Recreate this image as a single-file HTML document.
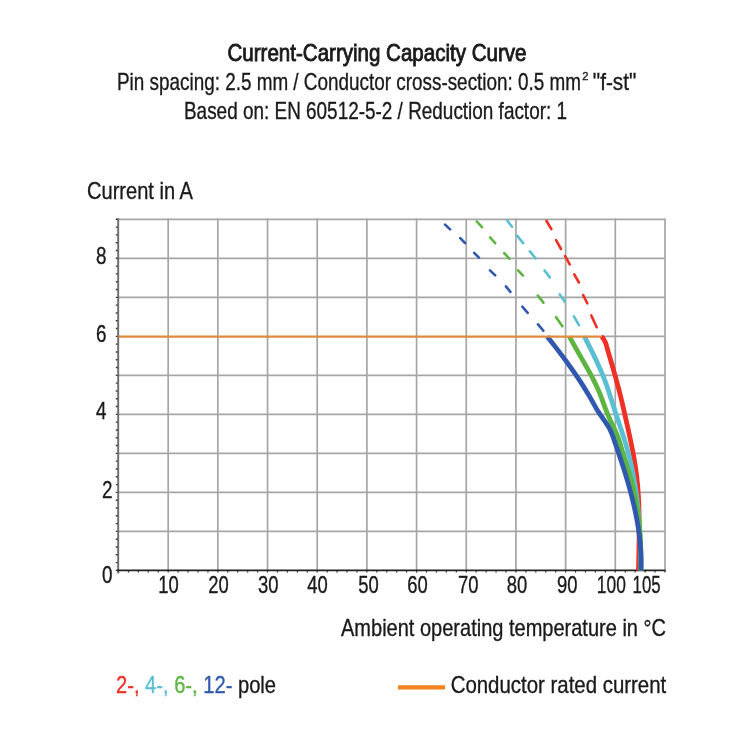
<!DOCTYPE html>
<html><head><meta charset="utf-8"><style>
html,body{margin:0;padding:0;background:#fff;width:750px;height:750px;overflow:hidden}
svg{display:block;will-change:transform;font-family:"Liberation Sans",sans-serif}
</style></head><body>
<svg width="750" height="750" viewBox="0 0 750 750">
<rect width="750" height="750" fill="#fff"/>
<g stroke="#a6a6a6" stroke-width="1.7"><line x1="168.18" y1="218.5" x2="168.18" y2="570.4"/><line x1="217.86" y1="218.5" x2="217.86" y2="570.4"/><line x1="267.54" y1="218.5" x2="267.54" y2="570.4"/><line x1="317.22" y1="218.5" x2="317.22" y2="570.4"/><line x1="366.90" y1="218.5" x2="366.90" y2="570.4"/><line x1="416.58" y1="218.5" x2="416.58" y2="570.4"/><line x1="466.26" y1="218.5" x2="466.26" y2="570.4"/><line x1="515.94" y1="218.5" x2="515.94" y2="570.4"/><line x1="565.62" y1="218.5" x2="565.62" y2="570.4"/><line x1="615.30" y1="218.5" x2="615.30" y2="570.4"/><line x1="665.00" y1="218.5" x2="665.00" y2="570.4"/><line x1="118.5" y1="531.39" x2="665" y2="531.39"/><line x1="118.5" y1="492.38" x2="665" y2="492.38"/><line x1="118.5" y1="453.37" x2="665" y2="453.37"/><line x1="118.5" y1="414.36" x2="665" y2="414.36"/><line x1="118.5" y1="375.35" x2="665" y2="375.35"/><line x1="601" y1="336.34" x2="665" y2="336.34"/><line x1="118.5" y1="297.33" x2="665" y2="297.33"/><line x1="118.5" y1="258.32" x2="665" y2="258.32"/><line x1="118.5" y1="219.31" x2="665" y2="219.31"/></g>
<path d="M115.8 570.40H118.5M115.8 562.60H118.5M115.8 554.80H118.5M115.8 546.99H118.5M115.8 539.19H118.5M115.8 531.39H118.5M115.8 523.59H118.5M115.8 515.79H118.5M115.8 507.98H118.5M115.8 500.18H118.5M115.8 492.38H118.5M115.8 484.58H118.5M115.8 476.78H118.5M115.8 468.97H118.5M115.8 461.17H118.5M115.8 453.37H118.5M115.8 445.57H118.5M115.8 437.77H118.5M115.8 429.96H118.5M115.8 422.16H118.5M115.8 414.36H118.5M115.8 406.56H118.5M115.8 398.76H118.5M115.8 390.95H118.5M115.8 383.15H118.5M115.8 375.35H118.5M115.8 367.55H118.5M115.8 359.75H118.5M115.8 351.94H118.5M115.8 344.14H118.5M115.8 336.34H118.5M115.8 328.54H118.5M115.8 320.74H118.5M115.8 312.93H118.5M115.8 305.13H118.5M115.8 297.33H118.5M115.8 289.53H118.5M115.8 281.73H118.5M115.8 273.92H118.5M115.8 266.12H118.5M115.8 258.32H118.5M115.8 250.52H118.5M115.8 242.72H118.5M115.8 234.91H118.5M115.8 227.11H118.5M115.8 219.31H118.5" stroke="#333" stroke-width="1.4" fill="none"/>
<path d="M118.50 570.4V572.6M128.44 570.4V572.6M138.37 570.4V572.6M148.31 570.4V572.6M158.24 570.4V572.6M168.18 570.4V572.6M178.12 570.4V572.6M188.05 570.4V572.6M197.99 570.4V572.6M207.92 570.4V572.6M217.86 570.4V572.6M227.80 570.4V572.6M237.73 570.4V572.6M247.67 570.4V572.6M257.60 570.4V572.6M267.54 570.4V572.6M277.48 570.4V572.6M287.41 570.4V572.6M297.35 570.4V572.6M307.28 570.4V572.6M317.22 570.4V572.6M327.16 570.4V572.6M337.09 570.4V572.6M347.03 570.4V572.6M356.96 570.4V572.6M366.90 570.4V572.6M376.84 570.4V572.6M386.77 570.4V572.6M396.71 570.4V572.6M406.64 570.4V572.6M416.58 570.4V572.6M426.52 570.4V572.6M436.45 570.4V572.6M446.39 570.4V572.6M456.32 570.4V572.6M466.26 570.4V572.6M476.20 570.4V572.6M486.13 570.4V572.6M496.07 570.4V572.6M506.00 570.4V572.6M515.94 570.4V572.6M525.88 570.4V572.6M535.81 570.4V572.6M545.75 570.4V572.6M555.68 570.4V572.6M565.62 570.4V572.6M575.56 570.4V572.6M585.49 570.4V572.6M595.43 570.4V572.6M605.36 570.4V572.6M615.30 570.4V572.6M625.24 570.4V572.6M635.17 570.4V572.6M645.11 570.4V572.6M655.04 570.4V572.6M664.98 570.4V572.6" stroke="#333" stroke-width="1.2" fill="none"/>
<line x1="118.2" y1="218.6" x2="118.2" y2="573.5" stroke="#6a6a6a" stroke-width="1.9"/>
<line x1="117" y1="570.4" x2="665.5" y2="570.4" stroke="#222" stroke-width="1.6"/>
<path d="M546.51 220.99L551.39 229.21M556.09 240.20L561.01 249.00M565.19 256.20L569.71 264.40M574.30 274.40L578.90 282.50M583.16 295.12L587.24 303.28M591.33 315.43L596.67 327.27" stroke="#ee3124" stroke-width="2.6" stroke-linecap="round" fill="none"/>
<path d="M507.19 220.43L512.01 226.67M517.30 235.92L523.20 243.18M529.90 251.32L535.50 258.28M544.49 270.43L549.91 277.37M559.75 294.36L564.75 301.74M573.90 316.40L578.90 325.20" stroke="#5bbfd3" stroke-width="2.6" stroke-linecap="round" fill="none"/>
<path d="M476.83 221.50L481.97 227.20M490.13 237.50L495.17 243.20M504.24 253.09L509.36 258.71M518.05 270.38L522.95 275.62M537.79 295.53L543.41 302.67M556.06 317.15L562.44 326.25" stroke="#5cb541" stroke-width="2.6" stroke-linecap="round" fill="none"/>
<path d="M445.08 224.65L450.12 229.35M460.26 238.17L465.04 243.03M474.17 252.87L478.93 257.63M489.98 270.35L495.22 275.35M505.91 286.42L510.39 291.88M522.32 306.71L527.68 312.89M538.01 324.32L543.39 330.78" stroke="#3058ae" stroke-width="2.6" stroke-linecap="round" fill="none"/>
<path d="M601.20 336.60L602.60 337.60L603.90 339.50L604.90 341.50L605.81 343.30L606.65 346.30L607.50 349.30L608.36 352.30L609.23 355.30L610.10 358.30L610.98 361.30L611.86 364.30L612.73 367.30L613.60 370.30L614.46 373.30L615.32 376.30L616.16 379.30L616.98 382.30L617.79 385.30L618.58 388.30L619.35 391.30L620.10 394.30L620.83 397.30L621.56 400.30L622.26 403.30L622.96 406.30L623.65 409.30L624.33 412.30L625.01 415.30L625.68 418.30L626.35 421.30L627.02 424.30L627.69 427.30L628.35 430.30L629.01 433.30L629.66 436.30L630.30 439.30L630.93 442.30L631.55 445.30L632.15 448.30L632.74 451.30L633.30 454.30L633.85 457.30L634.37 460.30L634.87 463.30L635.34 466.30L635.78 469.30L636.19 472.30L636.57 475.30L636.92 478.30L637.24 481.30L637.53 484.30L637.79 487.30L638.02 490.30L638.23 493.30L638.42 496.30L638.58 499.30L638.72 502.30L638.84 505.30L638.94 508.30L639.02 511.30L639.09 514.30L639.13 517.30L639.17 520.30L639.19 523.30L639.19 526.30L639.18 529.30L639.17 532.30L639.14 535.30L639.11 538.30L639.07 541.30L639.02 544.30L638.97 547.30L638.91 550.30L638.85 553.30L638.79 556.30L638.73 559.30L638.67 562.30L638.61 565.30L638.56 568.30L638.52 570.40" stroke="#ee3124" stroke-width="4.8" fill="none" stroke-linejoin="round"/>
<path d="M584.30 336.40L585.83 339.40L587.35 342.40L588.87 345.40L590.38 348.40L591.87 351.40L593.35 354.40L594.80 357.40L596.23 360.40L597.63 363.40L598.99 366.40L600.32 369.40L601.60 372.40L602.84 375.40L604.03 378.40L605.17 381.40L606.27 384.40L607.32 387.40L608.35 390.40L609.34 393.40L610.32 396.40L611.28 399.40L612.23 402.40L613.18 405.40L614.13 408.40L615.09 411.40L616.07 414.40L617.07 417.40L618.08 420.40L619.10 423.40L620.12 426.40L621.13 429.40L622.13 432.40L623.11 435.40L624.06 438.40L624.99 441.40L625.88 444.40L626.73 447.40L627.56 450.40L628.35 453.40L629.11 456.40L629.85 459.40L630.55 462.40L631.23 465.40L631.87 468.40L632.49 471.40L633.08 474.40L633.64 477.40L634.18 480.40L634.69 483.40L635.17 486.40L635.63 489.40L636.07 492.40L636.48 495.40L636.87 498.40L637.24 501.40L637.58 504.40L637.90 507.40L638.21 510.40L638.49 513.40L638.75 516.40L638.99 519.40L639.22 522.40L639.42 525.40L639.61 528.40L639.78 531.40L639.93 534.40L640.07 537.40L640.20 540.40L640.30 543.40L640.40 546.40L640.48 549.40L640.55 552.40L640.60 555.40L640.64 558.40L640.68 561.40L640.70 564.40L640.71 567.40L640.71 570.40" stroke="#5bbfd3" stroke-width="4.8" fill="none" stroke-linejoin="round"/>
<path d="M569.41 336.40L570.98 339.40L572.60 342.40L574.25 345.40L575.93 348.40L577.63 351.40L579.34 354.40L581.06 357.40L582.78 360.40L584.50 363.40L586.20 366.40L587.88 369.40L589.54 372.40L591.16 375.40L592.74 378.40L594.26 381.40L595.74 384.40L597.15 387.40L598.49 390.40L599.77 393.40L600.96 396.40L602.08 399.40L603.15 402.40L604.22 405.40L605.34 408.40L606.52 411.40L607.76 414.40L609.05 417.40L610.39 420.40L611.77 423.40L613.18 426.40L614.60 429.40L615.99 432.40L617.29 435.40L618.46 438.40L619.48 441.40L620.38 444.40L621.25 447.40L622.13 450.40L623.04 453.40L623.98 456.40L624.93 459.40L625.89 462.40L626.85 465.40L627.80 468.40L628.74 471.40L629.66 474.40L630.55 477.40L631.39 480.40L632.20 483.40L632.96 486.40L633.68 489.40L634.35 492.40L634.99 495.40L635.59 498.40L636.15 501.40L636.67 504.40L637.15 507.40L637.60 510.40L638.02 513.40L638.41 516.40L638.76 519.40L639.08 522.40L639.37 525.40L639.63 528.40L639.87 531.40L640.08 534.40L640.26 537.40L640.42 540.40L640.55 543.40L640.67 546.40L640.76 549.40L640.83 552.40L640.88 555.40L640.92 558.40L640.94 561.40L640.94 564.40L640.93 567.40L640.90 570.40" stroke="#5cb541" stroke-width="4.8" fill="none" stroke-linejoin="round"/>
<path d="M547.21 336.40L549.56 339.40L551.90 342.40L554.23 345.40L556.53 348.40L558.82 351.40L561.09 354.40L563.34 357.40L565.56 360.40L567.75 363.40L569.91 366.40L572.05 369.40L574.15 372.40L576.21 375.40L578.24 378.40L580.23 381.40L582.17 384.40L584.07 387.40L585.93 390.40L587.74 393.40L589.50 396.40L591.21 399.40L592.87 402.40L594.55 405.40L596.27 408.40L598.09 411.40L600.06 414.40L602.15 417.40L604.27 420.40L606.33 423.40L608.24 426.40L609.91 429.40L611.30 432.40L612.50 435.40L613.57 438.40L614.61 441.40L615.65 444.40L616.68 447.40L617.71 450.40L618.72 453.40L619.73 456.40L620.72 459.40L621.71 462.40L622.68 465.40L623.63 468.40L624.58 471.40L625.50 474.40L626.41 477.40L627.31 480.40L628.18 483.40L629.03 486.40L629.87 489.40L630.68 492.40L631.47 495.40L632.23 498.40L632.97 501.40L633.69 504.40L634.37 507.40L635.03 510.40L635.66 513.40L636.27 516.40L636.84 519.40L637.37 522.40L637.88 525.40L638.35 528.40L638.79 531.40L639.20 534.40L639.56 537.40L639.89 540.40L640.18 543.40L640.44 546.40L640.65 549.40L640.82 552.40L640.95 555.40L641.04 558.40L641.08 561.40L641.08 564.40L641.03 567.40L640.93 570.40" stroke="#3058ae" stroke-width="4.8" fill="none" stroke-linejoin="round"/>
<line x1="118.5" y1="336.7" x2="601.5" y2="336.7" stroke="#e2893d" stroke-width="2.3"/>
<text x="227.5" y="61.4" font-size="24" font-weight="normal" text-anchor="start" fill="#1a1a1a" textLength="299" lengthAdjust="spacingAndGlyphs" stroke="#1a1a1a" stroke-width="0.9">Current-Carrying Capacity Curve</text>
<text x="117" y="89.9" font-size="24" font-weight="normal" text-anchor="start" fill="#1a1a1a" textLength="464" lengthAdjust="spacingAndGlyphs" stroke="#1a1a1a" stroke-width="0.35">Pin spacing: 2.5 mm / Conductor cross-section: 0.5 mm</text>
<text x="582.2" y="79.8" font-size="11" font-weight="normal" text-anchor="start" fill="#1a1a1a" textLength="6.2" lengthAdjust="spacingAndGlyphs" stroke="#1a1a1a" stroke-width="0.35">2</text>
<text x="592.8" y="89.9" font-size="24" font-weight="normal" text-anchor="start" fill="#1a1a1a" textLength="43.5" lengthAdjust="spacingAndGlyphs" stroke="#1a1a1a" stroke-width="0.35">"f-st"</text>
<text x="184" y="119" font-size="24" font-weight="normal" text-anchor="start" fill="#1a1a1a" textLength="383" lengthAdjust="spacingAndGlyphs" stroke="#1a1a1a" stroke-width="0.35">Based on: EN 60512-5-2 / Reduction factor: 1</text>
<text x="87" y="199.1" font-size="24" font-weight="normal" text-anchor="start" fill="#1a1a1a" textLength="106" lengthAdjust="spacingAndGlyphs" stroke="#1a1a1a" stroke-width="0.35">Current in A</text>
<text x="341" y="636.3" font-size="24" font-weight="normal" text-anchor="start" fill="#1a1a1a" textLength="325" lengthAdjust="spacingAndGlyphs" stroke="#1a1a1a" stroke-width="0.35">Ambient operating temperature in °C</text>
<text x="96" y="263.8" font-size="24" font-weight="normal" text-anchor="start" fill="#1a1a1a" textLength="10.5" lengthAdjust="spacingAndGlyphs" stroke="#1a1a1a" stroke-width="0.35">8</text>
<text x="96" y="341.8" font-size="24" font-weight="normal" text-anchor="start" fill="#1a1a1a" textLength="10.5" lengthAdjust="spacingAndGlyphs" stroke="#1a1a1a" stroke-width="0.35">6</text>
<text x="96" y="419" font-size="24" font-weight="normal" text-anchor="start" fill="#1a1a1a" textLength="10.5" lengthAdjust="spacingAndGlyphs" stroke="#1a1a1a" stroke-width="0.35">4</text>
<text x="102" y="497.6" font-size="24" font-weight="normal" text-anchor="start" fill="#1a1a1a" textLength="10.5" lengthAdjust="spacingAndGlyphs" stroke="#1a1a1a" stroke-width="0.35">2</text>
<text x="102" y="583" font-size="24" font-weight="normal" text-anchor="start" fill="#1a1a1a" textLength="10.5" lengthAdjust="spacingAndGlyphs" stroke="#1a1a1a" stroke-width="0.35">0</text>
<text x="168.4" y="593" font-size="24" font-weight="normal" text-anchor="middle" fill="#1a1a1a" textLength="20.5" lengthAdjust="spacingAndGlyphs" stroke="#1a1a1a" stroke-width="0.35">10</text>
<text x="218.4" y="593" font-size="24" font-weight="normal" text-anchor="middle" fill="#1a1a1a" textLength="20.5" lengthAdjust="spacingAndGlyphs" stroke="#1a1a1a" stroke-width="0.35">20</text>
<text x="268.3" y="593" font-size="24" font-weight="normal" text-anchor="middle" fill="#1a1a1a" textLength="20.5" lengthAdjust="spacingAndGlyphs" stroke="#1a1a1a" stroke-width="0.35">30</text>
<text x="317.4" y="593" font-size="24" font-weight="normal" text-anchor="middle" fill="#1a1a1a" textLength="20.5" lengthAdjust="spacingAndGlyphs" stroke="#1a1a1a" stroke-width="0.35">40</text>
<text x="368.4" y="593" font-size="24" font-weight="normal" text-anchor="middle" fill="#1a1a1a" textLength="20.5" lengthAdjust="spacingAndGlyphs" stroke="#1a1a1a" stroke-width="0.35">50</text>
<text x="417.4" y="593" font-size="24" font-weight="normal" text-anchor="middle" fill="#1a1a1a" textLength="20.5" lengthAdjust="spacingAndGlyphs" stroke="#1a1a1a" stroke-width="0.35">60</text>
<text x="468.2" y="593" font-size="24" font-weight="normal" text-anchor="middle" fill="#1a1a1a" textLength="20.5" lengthAdjust="spacingAndGlyphs" stroke="#1a1a1a" stroke-width="0.35">70</text>
<text x="517.0" y="593" font-size="24" font-weight="normal" text-anchor="middle" fill="#1a1a1a" textLength="20.5" lengthAdjust="spacingAndGlyphs" stroke="#1a1a1a" stroke-width="0.35">80</text>
<text x="567.2" y="593" font-size="24" font-weight="normal" text-anchor="middle" fill="#1a1a1a" textLength="20.5" lengthAdjust="spacingAndGlyphs" stroke="#1a1a1a" stroke-width="0.35">90</text>
<text x="611.3" y="593" font-size="24" font-weight="normal" text-anchor="middle" fill="#1a1a1a" textLength="29" lengthAdjust="spacingAndGlyphs" stroke="#1a1a1a" stroke-width="0.35">100</text>
<text x="646.6" y="593" font-size="24" font-weight="normal" text-anchor="middle" fill="#1a1a1a" textLength="28" lengthAdjust="spacingAndGlyphs" stroke="#1a1a1a" stroke-width="0.35">105</text>
<text x="116" y="693" font-size="24" fill="#1a1a1a" textLength="160" lengthAdjust="spacingAndGlyphs" stroke-width="0.35"><tspan fill="#ee3124" stroke="#ee3124">2-, </tspan><tspan fill="#5bbfd3" stroke="#5bbfd3">4-, </tspan><tspan fill="#5cb541" stroke="#5cb541">6-, </tspan><tspan fill="#3058ae" stroke="#3058ae">12- </tspan><tspan stroke="#1a1a1a">pole</tspan></text>
<line x1="398" y1="687.3" x2="445" y2="687.3" stroke="#f5821f" stroke-width="4.2"/>
<text x="450.7" y="693" font-size="24" font-weight="normal" text-anchor="start" fill="#1a1a1a" textLength="215.5" lengthAdjust="spacingAndGlyphs" stroke="#1a1a1a" stroke-width="0.35">Conductor rated current</text>
</svg>
</body></html>
